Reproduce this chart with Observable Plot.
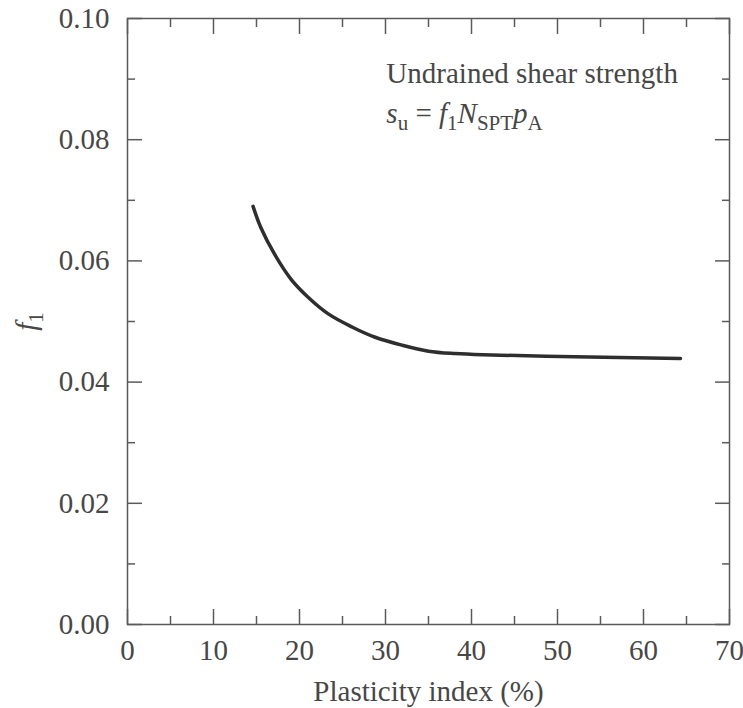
<!DOCTYPE html>
<html><head><meta charset="utf-8">
<script src="https://cdn.jsdelivr.net/npm/d3@7"></script>
<script src="https://cdn.jsdelivr.net/npm/@observablehq/plot@0.6"></script>
<style>
body{margin:0;background:#fff;}
#chart svg{display:block;}
</style>
</head><body><div id="chart"></div>
<script>
// Curve
const plasticityIndex = [14.6, 15.5, 17.1, 19.0, 21.0, 23.3, 26.1, 28.8, 31.9, 35.0, 38.1, 41.3, 52.0, 64.3];
const f1Values = [0.0690, 0.0655, 0.0611, 0.0570, 0.0540, 0.0513, 0.0491, 0.0474, 0.0461, 0.0451, 0.0447, 0.0445, 0.0442, 0.0439];

// Ticks
const xMajorTicks = [0, 10, 20, 30, 40, 50, 60, 70];
const xMinorTicks = [5, 15, 25, 35, 45, 55, 65];
const yMajorTicks = [0, 0.02, 0.04, 0.06, 0.08, 0.10];
const yMinorTicks = [0.01, 0.03, 0.05, 0.07, 0.09];

// Annotation
const annotationX = [30.1, 30.1];
const annotationY = [0.0909, 0.0843];
const annotationText = ["Undrained shear strength", "FORMULA"];

const xLabel = "Plasticity index (%)";

const data = plasticityIndex.map((x, i) => ({x, y: f1Values[i]}));
const annotations = annotationText.map((t, i) => ({x: annotationX[i], y: annotationY[i], t}));

const ink = "#474747";
const lineInk = "#5a5a5a";
const FS = 29;

const plot = Plot.plot({
  width: 743,
  height: 708,
  marginLeft: 127,
  marginRight: 14,
  marginTop: 18,
  marginBottom: 84,
  style: {fontFamily: "'Liberation Serif', 'DejaVu Serif', serif", fontSize: FS + "px", color: ink, background: "#fff"},
  x: {domain: [0, 70]},
  y: {domain: [0, 0.10]},
  marks: [
    Plot.frame({stroke: lineInk, strokeWidth: 1.5}),
    // labels
    Plot.axisX(xMajorTicks, {anchor: "bottom", tickSize: 0, tickPadding: 15, label: xLabel, labelAnchor: "center", labelOffset: 76, labelArrow: "none", fill: ink, fontSize: FS, tickFormat: d3.format("d")}),
    Plot.axisY(yMajorTicks, {anchor: "left", tickSize: 0, tickPadding: 18, label: null, fill: ink, fontSize: FS, tickFormat: d3.format(".2f")}),
    // inward ticks
    Plot.axisX(xMajorTicks, {anchor: "bottom", tickSize: -15, text: null, label: null, stroke: lineInk, strokeWidth: 1.5}),
    Plot.axisX(xMinorTicks, {anchor: "bottom", tickSize: -8, text: null, label: null, stroke: lineInk, strokeWidth: 1.5}),
    Plot.axisX(xMajorTicks, {anchor: "top", tickSize: -15, text: null, label: null, stroke: lineInk, strokeWidth: 1.5}),
    Plot.axisX(xMinorTicks, {anchor: "top", tickSize: -8, text: null, label: null, stroke: lineInk, strokeWidth: 1.5}),
    Plot.axisY(yMajorTicks, {anchor: "left", tickSize: -15, text: null, label: null, stroke: lineInk, strokeWidth: 1.5}),
    Plot.axisY(yMinorTicks, {anchor: "left", tickSize: -8, text: null, label: null, stroke: lineInk, strokeWidth: 1.5}),
    Plot.axisY(yMajorTicks, {anchor: "right", tickSize: -15, text: null, label: null, stroke: lineInk, strokeWidth: 1.5}),
    Plot.axisY(yMinorTicks, {anchor: "right", tickSize: -8, text: null, label: null, stroke: lineInk, strokeWidth: 1.5}),
    // curve
    Plot.line(data, {x: "x", y: "y", curve: "catmull-rom", stroke: "#2e2e2e", strokeWidth: 3.5}),
    // annotation
    Plot.text(annotations, {x: "x", y: "y", text: "t", textAnchor: "start", lineAnchor: "middle", fill: ink, fontSize: FS}),
    // y label
    Plot.text(["YLABEL"], {frameAnchor: "left", dx: -101, rotate: -90, lineAnchor: "middle", textAnchor: "middle", fill: ink, fontSize: FS})
  ]
});

function richify(el, parts) {
  const sel = d3.select(el);
  sel.text(null);
  let shift = 0;
  for (const p of parts) {
    const ts = sel.append("tspan").text(p.t);
    if (p.i) ts.attr("font-style", "italic");
    const target = p.sub ? 7 : 0;
    if (target !== shift) { ts.attr("dy", target - shift); shift = target; }
    if (p.sub) ts.attr("font-size", "21px");
  }
}

d3.select(plot).selectAll("text").each(function() {
  const t = this.textContent;
  if (t === "FORMULA") {
    richify(this, [
      {t: "s", i: true}, {t: "u", sub: true}, {t: " = "},
      {t: "f", i: true}, {t: "1", sub: true},
      {t: "N", i: true}, {t: "SPT", sub: true},
      {t: "p", i: true}, {t: "A", sub: true}
    ]);
  } else if (t === "YLABEL") {
    richify(this, [{t: "f", i: true}, {t: "1", sub: true}]);
  }
});

document.getElementById("chart").appendChild(plot);
</script>
</body></html>
